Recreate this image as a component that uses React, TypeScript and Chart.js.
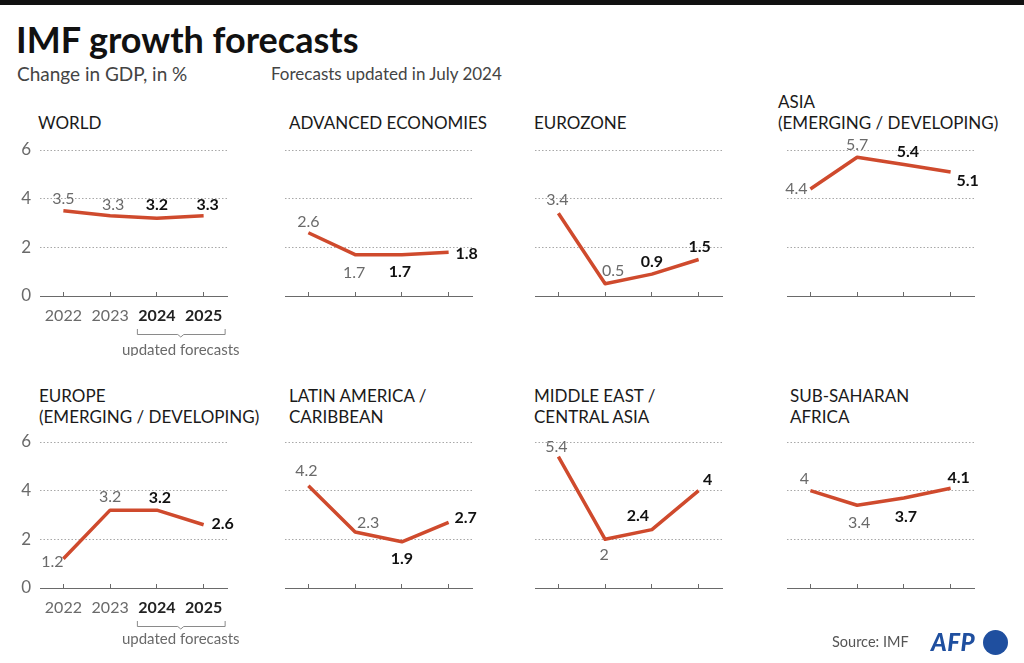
import React, { useEffect, useRef } from 'react';
import { Chart, registerables } from 'chart.js';

Chart.register(...registerables);

// ---------- DATA ----------
const years = ['2022', '2023', '2024', '2025'];
const forecastStartIndex = 2;
const yTickValues = [0, 2, 4, 6];

const worldValues = [3.5, 3.3, 3.2, 3.3];
const advancedValues = [2.6, 1.7, 1.7, 1.8];
const eurozoneValues = [3.4, 0.5, 0.9, 1.5];
const asiaValues = [4.4, 5.7, 5.4, 5.1];
const europeValues = [1.2, 3.2, 3.2, 2.6];
const latamValues = [4.2, 2.3, 1.9, 2.7];
const mideastValues = [5.4, 2, 2.4, 4];
const ssaValues = [4, 3.4, 3.7, 4.1];

// ---------- STYLE ----------
const FONT = 'Lato, "Noto Sans", sans-serif';
const RED = '#cf4a2d';
const GRID = '#a8a8a8';
const AXIS = '#6a6a6a';

// label offsets (dx, dy) from each point, in pixels
const worldLabelOffsets = [[0, -12], [3, -11], [0, -13], [4, -11]];
const advancedLabelOffsets = [[0, -11], [-1, 18], [-2, 17], [18, 2]];
const eurozoneLabelOffsets = [[-1, -13], [8, -13], [0, -12], [1, -13]];
const asiaLabelOffsets = [[-14, 0], [0, -12], [4, -13], [17, 9]];
const europeLabelOffsets = [[-11, 3], [0, -13], [3, -12], [19, -1]];
const latamLabelOffsets = [[-2, -15], [13, -9], [0, 17], [17, -4]];
const mideastLabelOffsets = [[-2, -10], [-1, 16], [-14, -14], [9, -11]];
const ssaLabelOffsets = [[-6, -12], [2, 18], [2, 19], [8, -10]];

const COL_LEFT = [40, 285, 535, 787];
const ROW_CANVAS_TOP = [130, 422];
const TITLE_LAST_LINE_Y = [123, 417];
const Y_AXIS_W = 40;
const PLOT_W = 187;
const PLOT_H = 146;
const PAD_TOP = 20;
const PAD_RIGHT = 40;
const X_AXIS_H = 60;
const CANVAS_W = Y_AXIS_W + PLOT_W + PAD_RIGHT;
const CANVAS_H = PAD_TOP + PLOT_H + X_AXIS_H;

type PanelSpec = {
  title: string[];
  values: number[];
  offsets: number[][];
  col: number;
  row: number;
  titleX: number;
};

const panels: PanelSpec[] = [
  { title: ['WORLD'], values: worldValues, offsets: worldLabelOffsets, col: 0, row: 0, titleX: 38 },
  { title: ['ADVANCED ECONOMIES'], values: advancedValues, offsets: advancedLabelOffsets, col: 1, row: 0, titleX: 289 },
  { title: ['EUROZONE'], values: eurozoneValues, offsets: eurozoneLabelOffsets, col: 2, row: 0, titleX: 534 },
  { title: ['ASIA', '(EMERGING / DEVELOPING)'], values: asiaValues, offsets: asiaLabelOffsets, col: 3, row: 0, titleX: 778 },
  { title: ['EUROPE', '(EMERGING / DEVELOPING)'], values: europeValues, offsets: europeLabelOffsets, col: 0, row: 1, titleX: 39 },
  { title: ['LATIN AMERICA /', 'CARIBBEAN'], values: latamValues, offsets: latamLabelOffsets, col: 1, row: 1, titleX: 289 },
  { title: ['MIDDLE EAST /', 'CENTRAL ASIA'], values: mideastValues, offsets: mideastLabelOffsets, col: 2, row: 1, titleX: 534 },
  { title: ['SUB-SAHARAN', 'AFRICA'], values: ssaValues, offsets: ssaLabelOffsets, col: 3, row: 1, titleX: 790 },
];

function Panel({ spec }: { spec: PanelSpec }) {
  const ref = useRef<HTMLCanvasElement>(null);
  useEffect(() => {
    const canvas = ref.current!;
    const showAxisLabels = spec.col === 0;

    const valueLabelPlugin = {
      id: 'valueLabels',
      afterDatasetsDraw(chart: any) {
        const ctx = chart.ctx;
        const meta = chart.getDatasetMeta(0);
        ctx.save();
        ctx.textAlign = 'center';
        ctx.textBaseline = 'middle';
        meta.data.forEach((pt: any, i: number) => {
          const forecast = i >= forecastStartIndex;
          ctx.font = `${forecast ? 'bold ' : ''}16px ${FONT}`;
          ctx.fillStyle = forecast ? '#111' : '#6a6a6a';
          const [dx, dy] = spec.offsets[i];
          ctx.fillText(String(spec.values[i]), pt.x + dx, pt.y + dy);
        });
        ctx.restore();
      },
    };

    const bracketPlugin = {
      id: 'forecastBracket',
      afterDraw(chart: any) {
        if (!showAxisLabels) return;
        const ctx = chart.ctx;
        const xs = chart.scales.x;
        const x1 = xs.getPixelForValue(forecastStartIndex) - 20;
        const x2 = xs.getPixelForValue(years.length - 1) + 21;
        const base = chart.chartArea.bottom;
        const yTop = base + 33;
        const yLine = base + 38;
        const xm = (x1 + x2) / 2;
        ctx.save();
        ctx.strokeStyle = '#8a8a8a';
        ctx.lineWidth = 1;
        ctx.beginPath();
        ctx.moveTo(x1 + 0.5, yTop);
        ctx.lineTo(x1 + 0.5, yLine + 0.5);
        ctx.lineTo(xm - 3, yLine + 0.5);
        ctx.lineTo(xm, yLine + 3);
        ctx.lineTo(xm + 3, yLine + 0.5);
        ctx.lineTo(x2 + 0.5, yLine + 0.5);
        ctx.lineTo(x2 + 0.5, yTop);
        ctx.stroke();
        ctx.font = `15px ${FONT}`;
        ctx.fillStyle = '#6a6a6a';
        ctx.textAlign = 'center';
        ctx.textBaseline = 'middle';
        ctx.fillText('updated forecasts', xm, base + (spec.row === 0 ? 54 : 51));
        ctx.restore();
      },
    };

    const chart = new Chart(canvas, {
      type: 'line',
      data: {
        labels: years,
        datasets: [
          {
            data: spec.values,
            borderColor: RED,
            borderWidth: 3.5,
            pointRadius: 0,
            tension: 0,
            clip: false,
            borderJoinStyle: 'round',
            borderCapStyle: 'butt',
          } as any,
        ],
      },
      options: {
        animation: false,
        responsive: false,
        maintainAspectRatio: false,
        events: [],
        layout: { padding: { top: PAD_TOP, right: PAD_RIGHT, left: 0, bottom: 0 } },
        plugins: { legend: { display: false }, tooltip: { enabled: false }, title: { display: false } },
        scales: {
          x: {
            type: 'category',
            offset: true,
            afterFit: (s: any) => {
              s.height = X_AXIS_H;
            },
            grid: {
              display: true,
              drawOnChartArea: false,
              drawTicks: true,
              tickLength: -4,
              tickColor: AXIS,
              color: AXIS,
            },
            border: { display: true, color: AXIS, width: 1 },
            ticks: {
              display: showAxisLabels,
              padding: 14,
              maxRotation: 0,
              autoSkip: false,
              color: (c: any) => (c.index >= forecastStartIndex ? '#222' : '#6a6a6a'),
              font: (c: any) => ({ family: FONT, size: 16, weight: c.index >= forecastStartIndex ? 'bold' : 'normal' }),
            },
          },
          y: {
            min: yTickValues[0],
            max: yTickValues[yTickValues.length - 1],
            afterFit: (s: any) => {
              s.width = Y_AXIS_W;
            },
            afterBuildTicks: (s: any) => {
              s.ticks = yTickValues.map((v) => ({ value: v }));
            },
            grid: {
              display: true,
              drawTicks: false,
              lineWidth: 1,
              color: (c: any) => (c.tick && c.tick.value === 0 ? 'rgba(0,0,0,0)' : GRID),
            },
            border: { display: false, dash: [1.5, 2] },
            ticks: {
              display: showAxisLabels,
              padding: 9,
              color: '#6a6a6a',
              font: { family: FONT, size: 17 },
            },
          },
        },
      } as any,
      plugins: [valueLabelPlugin, bracketPlugin],
    });
    return () => chart.destroy();
  }, [spec]);

  return (
    <canvas
      ref={ref}
      width={CANVAS_W}
      height={CANVAS_H}
      style={{
        position: 'absolute',
        left: COL_LEFT[spec.col] - Y_AXIS_W,
        top: ROW_CANVAS_TOP[spec.row],
        width: CANVAS_W,
        height: CANVAS_H,
      }}
    />
  );
}

function PanelTitle({ spec }: { spec: PanelSpec }) {
  const lh = 21.5;
  const n = spec.title.length;
  const top = TITLE_LAST_LINE_Y[spec.row] - (n - 1) * lh - lh / 2;
  return (
    <div
      style={{
        position: 'absolute',
        left: spec.titleX,
        top,
        fontSize: 17,
        lineHeight: `${lh}px`,
        color: '#1a1a1a',
        whiteSpace: 'nowrap',
      }}
    >
      {spec.title.map((t, i) => (
        <div key={i}>{t}</div>
      ))}
    </div>
  );
}

export default function App() {
  return (
    <div
      style={{
        position: 'absolute',
        left: 0,
        top: 0,
        width: 1024,
        height: 663,
        background: '#fff',
        overflow: 'hidden',
        fontFamily: FONT,
      }}
    >
      <div style={{ position: 'absolute', left: 0, top: 0, width: 1024, height: 5, background: '#111' }} />
      <div
        style={{
          position: 'absolute',
          left: 16,
          top: 19,
          fontSize: 36,
          fontWeight: 'bold',
          lineHeight: '40px',
          color: '#111',
          whiteSpace: 'nowrap',
        }}
      >
        IMF growth forecasts
      </div>
      <div style={{ position: 'absolute', left: 17, top: 63, fontSize: 19, lineHeight: '22px', color: '#444', whiteSpace: 'nowrap' }}>
        Change in GDP, in %
      </div>
      <div style={{ position: 'absolute', left: 271, top: 63, fontSize: 17, lineHeight: '22px', color: '#444', whiteSpace: 'nowrap' }}>
        Forecasts updated in July 2024
      </div>
      {panels.map((p, i) => (
        <PanelTitle key={'t' + i} spec={p} />
      ))}
      {panels.map((p, i) => (
        <Panel key={'p' + i} spec={p} />
      ))}
      <div style={{ position: 'absolute', left: 832, top: 631, fontSize: 14.5, lineHeight: '22px', color: '#555', whiteSpace: 'nowrap' }}>
        Source: IMF
      </div>
      <div
        style={{
          position: 'absolute',
          left: 931,
          top: 627,
          fontSize: 24,
          lineHeight: '30px',
          fontWeight: 900,
          fontStyle: 'italic',
          color: '#1f4f9f',
          letterSpacing: 0.5,
        }}
      >
        AFP
      </div>
      <div
        style={{
          position: 'absolute',
          left: 983,
          top: 630,
          width: 25,
          height: 25,
          borderRadius: '50%',
          background: '#1f4f9f',
        }}
      />
    </div>
  );
}
